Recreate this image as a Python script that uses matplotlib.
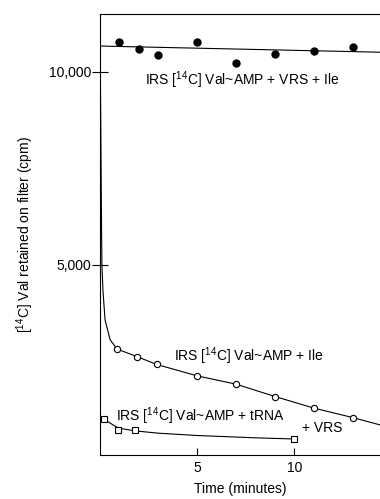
import matplotlib
matplotlib.use("Agg")
from matplotlib import pyplot as plt

plt.rcParams['font.family'] = ['Liberation Sans', 'DejaVu Sans']
plt.rcParams['mathtext.fontset'] = 'custom'
plt.rcParams['mathtext.rm'] = 'Liberation Sans'
plt.rcParams['mathtext.it'] = 'Liberation Sans'

# IRS [14C]Val~AMP + VRS + Ile  (filled circles)
t_vrs_ile = [1, 2, 3, 5, 7, 9, 11, 13]
cpm_vrs_ile = [10780, 10600, 10440, 10780, 10230, 10470, 10540, 10650]
fit_vrs_ile_t = [0, 14.4]
fit_vrs_ile = [10670, 10510]

# IRS [14C]Val~AMP + Ile  (open circles)
t_ile = [0.88, 1.92, 2.92, 5, 7, 9, 11, 13]
cpm_ile = [2820, 2620, 2420, 2125, 1910, 1590, 1290, 1045]
fit_ile_t = [0, 0.03, 0.05, 0.08, 0.10, 0.15, 0.26, 0.52, 0.88, 1.92, 2.92,
             5, 7, 9, 11, 13, 14.4]
fit_ile = [10670, 9275, 7980, 5900, 5000, 4350, 3575, 3060, 2820, 2620, 2420,
           2125, 1910, 1590, 1290, 1045, 855]

# IRS [14C]Val~AMP + tRNA + VRS  (open squares)
t_trna = [0.2, 0.95, 1.8, 10]
cpm_trna = [1000, 735, 710, 485]
fit_trna_t = [0.2, 0.95, 1.8, 3, 5, 7, 8, 10]
fit_trna = [1000, 770, 700, 640, 580, 540, 520, 490]

fig = plt.figure(figsize=(3.8, 4.99), dpi=100)
ax = fig.add_axes([100 / 380, 1 - 455 / 499, 1 - 100 / 380, (455 - 14) / 499])

ax.plot(fit_vrs_ile_t, fit_vrs_ile, color='black', lw=0.8)
ax.plot(t_vrs_ile, cpm_vrs_ile, 'o', color='black', ms=5)

ax.plot(fit_ile_t, fit_ile, color='black', lw=0.8)
ax.plot(t_ile, cpm_ile, 'o', mfc='white', mec='black', mew=0.8, ms=4.5)

ax.plot(fit_trna_t, fit_trna, color='black', lw=0.8)
ax.plot(t_trna, cpm_trna, 's', mfc='white', mec='black', mew=0.8, ms=4.5)

fs = 10
ax.text(2.3, 9790, r'IRS $[^{14}$C$]$ Val~AMP + VRS + Ile', fontsize=fs, va='center')
ax.text(3.8, 2630, r'IRS $[^{14}$C$]$ Val~AMP + Ile', fontsize=fs, va='center')
ax.text(0.82, 1090, r'IRS $[^{14}$C$]$ Val~AMP + tRNA', fontsize=fs, va='center')
ax.text(10.4, 780, '+ VRS', fontsize=fs, va='center')

ax.set_xlim(0, 14.4)
ax.set_ylim(75, 11500)
ax.set_xticks([5, 10])
ax.set_xticklabels(['5', '10'])
ax.set_yticks([5000, 10000])
ax.set_yticklabels(['5,000', '10,000'])
ax.tick_params(axis='x', direction='in', length=5, width=0.8, labelsize=10, pad=4)
ax.tick_params(axis='y', direction='inout', length=11, width=0.8, labelsize=10, pad=1)

ax.spines['right'].set_visible(False)
for s in ['left', 'top', 'bottom']:
    ax.spines[s].set_linewidth(0.8)

ax.set_xlabel('Time (minutes)', fontsize=10, labelpad=5)
ax.set_ylabel(r'$[^{14}$C$]$ Val retained on filter (cpm)', fontsize=10, labelpad=9)

fig.savefig('out.png', dpi=100)
